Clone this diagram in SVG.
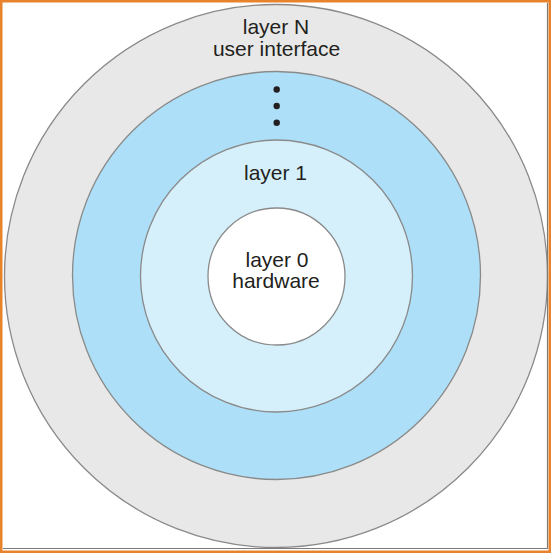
<svg xmlns="http://www.w3.org/2000/svg" width="551" height="553" viewBox="0 0 551 553">
<style>
.ring{stroke:#8a8a8a;stroke-width:1.3}
.lbl{font-family:"Liberation Sans",Arial,sans-serif;font-size:21px;fill:#231f20;text-anchor:middle}
.dot{fill:#231f20}
</style>
<rect x="0" y="0" width="551" height="553" fill="#ffffff"/>
<g id="layerN">
<circle class="ring" cx="276" cy="276" r="271.5" fill="#e8e8e8"/>
<text class="lbl" x="276" y="34">layer N</text>
<text class="lbl" x="276.5" y="56">user interface</text>
</g>
<g id="layerMid">
<circle class="ring" cx="276.5" cy="275.5" r="204" fill="#ade0f8"/>
<circle class="dot" cx="276.7" cy="89.5" r="3.2"/>
<circle class="dot" cx="276.7" cy="106" r="3.2"/>
<circle class="dot" cx="276.7" cy="122.7" r="3.2"/>
</g>
<g id="layer1">
<circle class="ring" cx="276.5" cy="276" r="136" fill="#d5effb"/>
<text class="lbl" x="275.5" y="180">layer 1</text>
</g>
<g id="layer0">
<circle class="ring" cx="276.5" cy="276.5" r="68.5" fill="#ffffff"/>
<text class="lbl" x="277" y="267">layer 0</text>
<text class="lbl" x="276" y="288">hardware</text>
</g>
<g id="connectors"></g>
<g id="frame">
<path d="M547.5 3 V548.5 H3" fill="none" stroke="#7a7a7a" stroke-width="1.2"/>
<rect x="1.25" y="1.25" width="548.5" height="550.5" fill="none" stroke="#e8832c" stroke-width="2.5"/>
</g>
</svg>
